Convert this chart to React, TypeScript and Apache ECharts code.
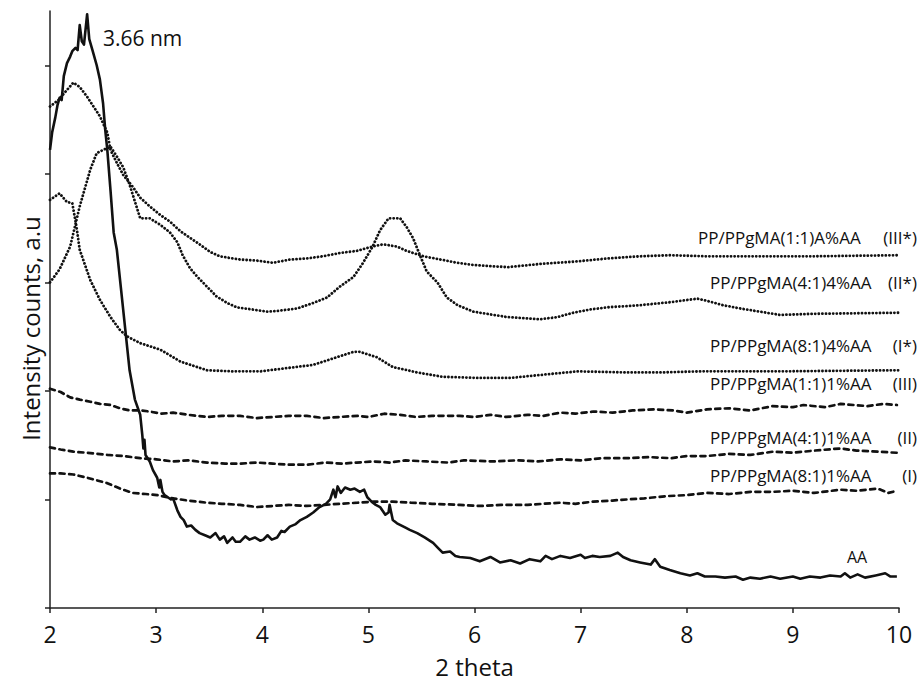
import React, { useEffect, useRef } from "react";
import * as echarts from "echarts";

type Pt = [number, number];

const FONT = "'Open Sans', 'Noto Sans', sans-serif";

const xTickValues = [2, 3, 4, 5, 6, 7, 8, 9, 10];
const yTickValues = [0, 1, 2, 3, 4, 5];

const aaCurve: Pt[] = [
  [2.00,4.22],[2.02,4.38],[2.05,4.52],[2.07,4.63],[2.09,4.70],[2.11,4.68],[2.13,4.90],[2.16,5.02],[2.19,5.08],[2.21,5.13],
  [2.24,5.16],[2.26,5.14],[2.28,5.37],[2.30,5.22],[2.32,5.19],[2.35,5.47],[2.37,5.24],[2.40,5.14],[2.44,5.00],[2.47,4.87],
  [2.50,4.65],[2.52,4.41],[2.54,4.22],[2.57,3.85],[2.60,3.46],[2.63,3.30],[2.67,2.93],[2.71,2.56],[2.75,2.19],[2.80,1.92],
  [2.85,1.78],[2.87,1.59],[2.88,1.47],[2.89,1.55],[2.90,1.41],[2.94,1.35],[2.97,1.27],[3.01,1.20],[3.03,1.11],[3.04,1.18],
  [3.06,1.07],[3.08,1.04],[3.11,1.02],[3.14,1.00],[3.16,1.01],[3.20,0.90],[3.23,0.84],[3.26,0.81],[3.29,0.75],[3.33,0.76],
  [3.37,0.72],[3.41,0.69],[3.46,0.67],[3.51,0.65],[3.56,0.69],[3.60,0.63],[3.64,0.66],[3.67,0.60],[3.72,0.65],[3.75,0.61],
  [3.79,0.61],[3.84,0.66],[3.88,0.63],[3.93,0.65],[3.98,0.62],[4.01,0.63],[4.05,0.67],[4.09,0.63],[4.14,0.65],[4.18,0.71],
  [4.21,0.70],[4.26,0.75],[4.31,0.77],[4.36,0.81],[4.42,0.84],[4.48,0.88],[4.54,0.93],[4.60,0.96],[4.64,1.00],[4.67,1.09],
  [4.69,1.02],[4.71,1.12],[4.74,1.06],[4.78,1.11],[4.83,1.09],[4.87,1.10],[4.92,1.07],[4.96,1.09],[4.99,1.02],[5.03,0.98],
  [5.07,0.95],[5.11,0.93],[5.16,0.86],[5.19,0.88],[5.20,0.95],[5.23,0.81],[5.27,0.78],[5.35,0.74],[5.39,0.72],[5.46,0.69],
  [5.53,0.65],[5.61,0.60],[5.66,0.55],[5.70,0.51],[5.77,0.52],[5.82,0.48],[5.86,0.47],[5.96,0.46],[6.05,0.43],[6.15,0.47],
  [6.24,0.42],[6.34,0.44],[6.43,0.41],[6.52,0.45],[6.62,0.43],[6.67,0.48],[6.73,0.45],[6.81,0.48],[6.90,0.46],[7.00,0.49],
  [7.04,0.46],[7.11,0.48],[7.18,0.47],[7.28,0.48],[7.35,0.51],[7.40,0.47],[7.47,0.44],[7.56,0.42],[7.66,0.40],[7.70,0.45],
  [7.75,0.38],[7.84,0.35],[7.94,0.32],[8.03,0.30],[8.10,0.32],[8.17,0.29],[8.27,0.29],[8.36,0.28],[8.46,0.29],[8.53,0.26],
  [8.60,0.28],[8.69,0.27],[8.79,0.29],[8.88,0.27],[9.00,0.29],[9.07,0.27],[9.16,0.29],[9.26,0.28],[9.35,0.30],[9.45,0.29],
  [9.49,0.32],[9.54,0.28],[9.61,0.31],[9.68,0.28],[9.78,0.30],[9.87,0.32],[9.92,0.29],[9.98,0.29]
];

const iiiStarCurve: Pt[] = [
  [2.00,4.62],[2.08,4.68],[2.14,4.75],[2.22,4.84],[2.28,4.80],[2.35,4.71],[2.41,4.62],[2.47,4.53],[2.54,4.38],[2.57,4.22],
  [2.63,4.10],[2.69,3.99],[2.78,3.88],[2.85,3.78],[2.94,3.70],[3.04,3.62],[3.13,3.56],[3.23,3.47],[3.32,3.41],[3.41,3.35],
  [3.51,3.28],[3.60,3.24],[3.79,3.21],[3.95,3.20],[4.10,3.18],[4.26,3.21],[4.42,3.22],[4.57,3.24],[4.73,3.27],[4.89,3.29],
  [5.04,3.33],[5.14,3.35],[5.27,3.33],[5.36,3.29],[5.52,3.24],[5.68,3.21],[5.84,3.18],[5.99,3.16],[6.31,3.14],[6.62,3.17],
  [6.93,3.19],[7.25,3.22],[7.56,3.24],[7.84,3.25],[8.19,3.24],[8.57,3.24],[9.19,3.24],[10.00,3.25]
];

const iiStarCurve: Pt[] = [
  [2.00,3.00],[2.09,3.12],[2.19,3.33],[2.28,3.70],[2.38,4.04],[2.44,4.19],[2.50,4.22],[2.57,4.25],[2.63,4.16],[2.69,4.06],
  [2.75,3.90],[2.85,3.59],[2.94,3.59],[3.04,3.53],[3.13,3.46],[3.20,3.37],[3.25,3.25],[3.32,3.13],[3.39,3.05],[3.48,2.96],
  [3.57,2.87],[3.67,2.81],[3.76,2.77],[3.91,2.75],[4.05,2.73],[4.17,2.74],[4.33,2.76],[4.48,2.81],[4.61,2.86],[4.73,2.96],
  [4.86,3.05],[4.95,3.18],[5.04,3.33],[5.11,3.48],[5.19,3.59],[5.30,3.59],[5.36,3.51],[5.42,3.41],[5.49,3.24],[5.55,3.10],
  [5.65,3.00],[5.74,2.86],[5.84,2.79],[5.99,2.73],[6.31,2.68],[6.62,2.66],[6.78,2.68],[6.93,2.72],[7.09,2.75],[7.25,2.77],
  [7.56,2.79],[7.87,2.82],[8.10,2.85],[8.19,2.83],[8.34,2.79],[8.50,2.76],[8.88,2.70],[9.19,2.71],[10.00,2.72]
];

const iStarCurve: Pt[] = [
  [2.00,3.76],[2.09,3.82],[2.16,3.74],[2.21,3.73],[2.25,3.51],[2.28,3.30],[2.38,3.02],[2.47,2.84],[2.57,2.68],[2.66,2.56],
  [2.73,2.50],[2.85,2.44],[3.04,2.38],[3.23,2.27],[3.48,2.19],[3.72,2.18],[3.98,2.18],[4.23,2.21],[4.48,2.24],[4.67,2.30],
  [4.86,2.36],[4.92,2.36],[5.08,2.31],[5.23,2.22],[5.46,2.17],[5.70,2.13],[6.02,2.12],[6.34,2.12],[6.65,2.15],[6.97,2.18],
  [7.44,2.17],[7.75,2.17],[8.13,2.18],[8.88,2.18],[10.00,2.19]
];

const iiiCurve: Pt[] = [
  [2.00,2.02],[2.10,1.99],[2.19,1.94],[2.28,1.92],[2.38,1.90],[2.47,1.88],[2.57,1.87],[2.66,1.84],[2.75,1.82],[2.85,1.82],
  [2.94,1.81],[3.05,1.79],[3.16,1.80],[3.30,1.78],[3.48,1.76],[3.62,1.77],[3.79,1.77],[3.95,1.75],[4.10,1.76],[4.25,1.77],
  [4.42,1.77],[4.58,1.75],[4.73,1.76],[4.90,1.77],[5.00,1.76],[5.15,1.79],[5.30,1.78],[5.45,1.76],[5.60,1.77],[5.86,1.77],
  [6.00,1.76],[6.15,1.78],[6.30,1.76],[6.50,1.78],[6.65,1.77],[6.81,1.80],[6.95,1.79],[7.12,1.81],[7.30,1.80],[7.49,1.82],
  [7.70,1.83],[7.87,1.82],[8.00,1.80],[8.19,1.83],[8.40,1.84],[8.60,1.82],[8.81,1.86],[9.00,1.85],[9.10,1.87],[9.30,1.85],
  [9.45,1.88],[9.70,1.86],[9.85,1.88],[9.98,1.87]
];

const iiCurve: Pt[] = [
  [2.00,1.48],[2.10,1.46],[2.22,1.44],[2.35,1.43],[2.54,1.41],[2.70,1.40],[2.85,1.38],[3.00,1.37],[3.16,1.35],[3.30,1.36],
  [3.48,1.34],[3.65,1.33],[3.79,1.33],[3.95,1.34],[4.10,1.33],[4.25,1.32],[4.42,1.32],[4.60,1.34],[4.75,1.33],[4.89,1.34],
  [5.05,1.35],[5.20,1.34],[5.35,1.36],[5.55,1.35],[5.75,1.34],[5.90,1.36],[6.18,1.35],[6.40,1.36],[6.60,1.35],[6.81,1.37],
  [7.00,1.36],[7.20,1.38],[7.44,1.38],[7.65,1.39],[7.85,1.38],[8.00,1.40],[8.19,1.40],[8.40,1.42],[8.60,1.41],[8.81,1.44],
  [9.00,1.43],[9.20,1.45],[9.45,1.47],[9.60,1.45],[9.80,1.44],[9.98,1.43]
];

const iCurve: Pt[] = [
  [2.00,1.24],[2.10,1.24],[2.22,1.23],[2.35,1.20],[2.54,1.15],[2.66,1.10],[2.78,1.06],[2.90,1.05],[3.01,1.04],[3.16,1.01],
  [3.30,0.99],[3.48,0.97],[3.62,0.96],[3.79,0.95],[3.95,0.93],[4.10,0.94],[4.25,0.95],[4.42,0.94],[4.58,0.95],[4.73,0.96],
  [4.90,0.97],[5.05,0.98],[5.23,0.98],[5.40,0.97],[5.60,0.96],[5.86,0.95],[6.05,0.94],[6.25,0.95],[6.50,0.95],[6.65,0.96],
  [6.81,0.97],[6.95,0.96],[7.12,0.98],[7.30,0.99],[7.44,1.00],[7.60,1.01],[7.80,1.03],[8.00,1.04],[8.19,1.06],[8.40,1.05],
  [8.60,1.07],[8.81,1.07],[9.00,1.08],[9.20,1.06],[9.45,1.09],[9.60,1.08],[9.80,1.10],[9.90,1.06],[9.98,1.08]
];

const sampleNames = [
  "PP/PPgMA(1:1)A%AA",
  "PP/PPgMA(4:1)4%AA",
  "PP/PPgMA(8:1)4%AA",
  "PP/PPgMA(1:1)1%AA",
  "PP/PPgMA(4:1)1%AA",
  "PP/PPgMA(8:1)1%AA",
];
const sampleCodes = ["(III*)", "(II*)", "(I*)", "(III)", "(II)", "(I)"];
const peakLabel = "3.66 nm";
const aaLabel = "AA";

// layout of annotation texts (pixels)
const nameLeft = [698, 710, 710, 710, 710, 710];
const labelRowY = [237, 282, 345, 383, 437, 475];

const INK = "#111";

function solid(name: string, data: Pt[]) {
  return {
    name, type: "line", data, symbol: "none", showSymbol: false, z: 4,
    lineStyle: { color: INK, width: 2.6, join: "round" },
  };
}
function dotted(name: string, data: Pt[]) {
  return {
    name, type: "line", data, symbol: "none", showSymbol: false, z: 3,
    lineStyle: { color: INK, width: 2.8, type: [0.1, 3.5], cap: "round" },
  };
}
function dashed(name: string, data: Pt[]) {
  return {
    name, type: "line", data, symbol: "none", showSymbol: false, z: 3,
    lineStyle: { color: INK, width: 2.7, type: [5, 4.6], cap: "round" },
  };
}

export default function App() {
  const ref = useRef<HTMLDivElement>(null);
  useEffect(() => {
    document.body.style.margin = "0";
    const chart = echarts.init(ref.current!, null, { renderer: "svg" });
    const axisLineStyle = { color: "#222", width: 1.5 };
    const texts: any[] = [];
    sampleNames.forEach((n, i) => {
      texts.push({
        type: "text", x: nameLeft[i], y: labelRowY[i],
        style: { text: n, font: `17px ${FONT}`, fill: INK, align: "left", verticalAlign: "middle" },
      });
      texts.push({
        type: "text", x: 917, y: labelRowY[i],
        style: { text: sampleCodes[i], font: `17px ${FONT}`, fill: INK, align: "right", verticalAlign: "middle" },
      });
    });
    texts.push({
      type: "text", x: 103, y: 38,
      style: { text: peakLabel, font: `21px ${FONT}`, fill: INK, align: "left", verticalAlign: "middle" },
    });
    texts.push({
      type: "text", x: 847, y: 557,
      style: { text: aaLabel, font: `16px ${FONT}`, fill: INK, align: "left", verticalAlign: "middle" },
    });

    chart.setOption({
      animation: false,
      backgroundColor: "#fff",
      grid: { left: 50, right: 20, top: 11, bottom: 75, outerBoundsMode: "none" },
      xAxis: {
        type: "value", min: 2, max: 10, interval: 1,
        name: "2 theta", nameLocation: "middle", nameGap: 46,
        nameTextStyle: { fontFamily: FONT, fontSize: 24, color: INK },
        axisLine: { show: true, onZero: false, lineStyle: axisLineStyle },
        axisTick: { show: true, length: 5, lineStyle: axisLineStyle, customValues: xTickValues },
        axisLabel: { fontFamily: FONT, fontSize: 23, color: INK, margin: 14, customValues: xTickValues },
        splitLine: { show: false },
      },
      yAxis: {
        type: "value", min: 0, max: 5.5,
        name: "Intensity counts, a.u", nameLocation: "middle", nameGap: 8, nameRotate: 90,
        nameTextStyle: { fontFamily: FONT, fontSize: 24, color: INK, padding: [0, 38, 0, 0] },
        axisLine: { show: true, onZero: false, lineStyle: axisLineStyle },
        axisTick: { show: true, length: 5, lineStyle: axisLineStyle, customValues: yTickValues },
        axisLabel: { show: false },
        splitLine: { show: false },
      },
      series: [
        dotted("PP/PPgMA(1:1)A%AA (III*)", iiiStarCurve),
        dotted("PP/PPgMA(4:1)4%AA (II*)", iiStarCurve),
        dotted("PP/PPgMA(8:1)4%AA (I*)", iStarCurve),
        dashed("PP/PPgMA(1:1)1%AA (III)", iiiCurve),
        dashed("PP/PPgMA(4:1)1%AA (II)", iiCurve),
        dashed("PP/PPgMA(8:1)1%AA (I)", iCurve),
        solid("AA", aaCurve),
      ],
      graphic: texts,
    });
    return () => chart.dispose();
  }, []);
  return <div ref={ref} style={{ width: 919, height: 683 }} />;
}
